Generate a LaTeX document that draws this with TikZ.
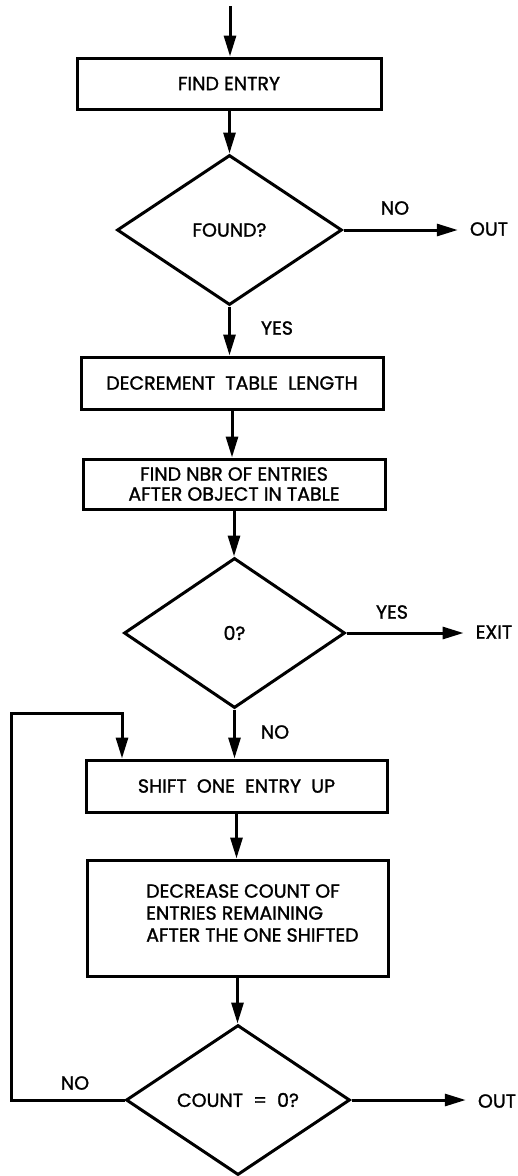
\documentclass[tikz,border=0pt]{standalone}
\usepackage{fontspec}
\newfontfamily\labfont{Poppins}[FakeBold=1.3]
\usetikzlibrary{shapes.geometric,arrows.meta}
\begin{document}
\begin{tikzpicture}[x=1pt,y=-1pt,
  every node/.style={font=\labfont\fontsize{19}{22}\selectfont},
  box/.style={draw,line width=3pt,rectangle,inner sep=0pt,align=center},
  dec/.style={draw,line width=3pt,diamond,inner sep=0pt,aspect=1.5},
  flow/.style={line width=3pt,-{Triangle[length=21pt,width=12pt]}},
  lbl/.style={inner sep=0pt}]
\useasboundingbox (0,0) rectangle (518,1176);
% nodes
\coordinate (start) at (230,6);
\node[box,minimum width=304pt,minimum height=51pt] (find) at (229,83.5) {FIND ENTRY};
\node[dec,minimum width=225pt,minimum height=150pt] (found) at (229.5,230) {FOUND?};
\node[lbl] (no1) at (395,208) {NO};
\node[lbl] (out1) at (489,229) {OUT};
\node[lbl] (yes1) at (277,328) {YES};
\node[box,minimum width=302pt,minimum height=52pt] (decr) at (232,383) {DECREMENT\ \ TABLE\ \ LENGTH};
\node[box,minimum width=302pt,minimum height=50pt] (nbr) at (234,484) {FIND NBR OF ENTRIES\\[-2pt]AFTER OBJECT IN TABLE};
\node[dec,minimum width=221pt,minimum height=150pt] (zero) at (234.5,633) {0?};
\node[lbl] (yes2) at (392,612) {YES};
\node[lbl] (exit) at (494,632) {EXIT};
\node[lbl] (no2) at (275,732) {NO};
\node[box,minimum width=301pt,minimum height=52pt] (shift) at (236.5,786) {SHIFT\ \ ONE\ \ ENTRY\ \ UP};
\node[box,minimum width=301pt,minimum height=116pt] (decrease) at (237.5,918) {};
\node[lbl,align=left,anchor=west] (dtext) at (146,913) {DECREASE COUNT OF\\ENTRIES REMAINING\\AFTER THE ONE SHIFTED};
\node[dec,minimum width=224pt,minimum height=150pt] (count) at (238,1100) {COUNT\ \ =\ \ 0?};
\node[lbl] (no3) at (75,1083) {NO};
\node[lbl] (out2) at (497,1101) {OUT};
\coordinate (lp) at (11,713);
% connectors
\draw[flow] (start) -- (start |- find.north);
\draw[flow] (find.south) -- (find.south -| found.north) -- (found.north);
\draw[flow,shorten >=12pt] (found.east) -- (found.east -| out1.west);
\draw[flow] (found.south) -- (found.south |- decr.north);
\draw[flow] (decr.south) -- (decr.south |- nbr.north);
\draw[flow] (nbr.south) -- (nbr.south |- zero.north);
\draw[flow,shorten >=12pt] (zero.east) -- (zero.east -| exit.west);
\draw[flow] (zero.south) -- (zero.south |- shift.north);
\draw[flow] (shift.south) -- (shift.south |- decrease.north);
\draw[flow] (decrease.south) -- (decrease.south |- count.north);
\draw[flow,shorten >=12pt] (count.east) -- (count.east -| out2.west);
\draw[flow] (count.west) -| (lp) -| ([xshift=-114.5pt]shift.north);
\end{tikzpicture}
\end{document}
